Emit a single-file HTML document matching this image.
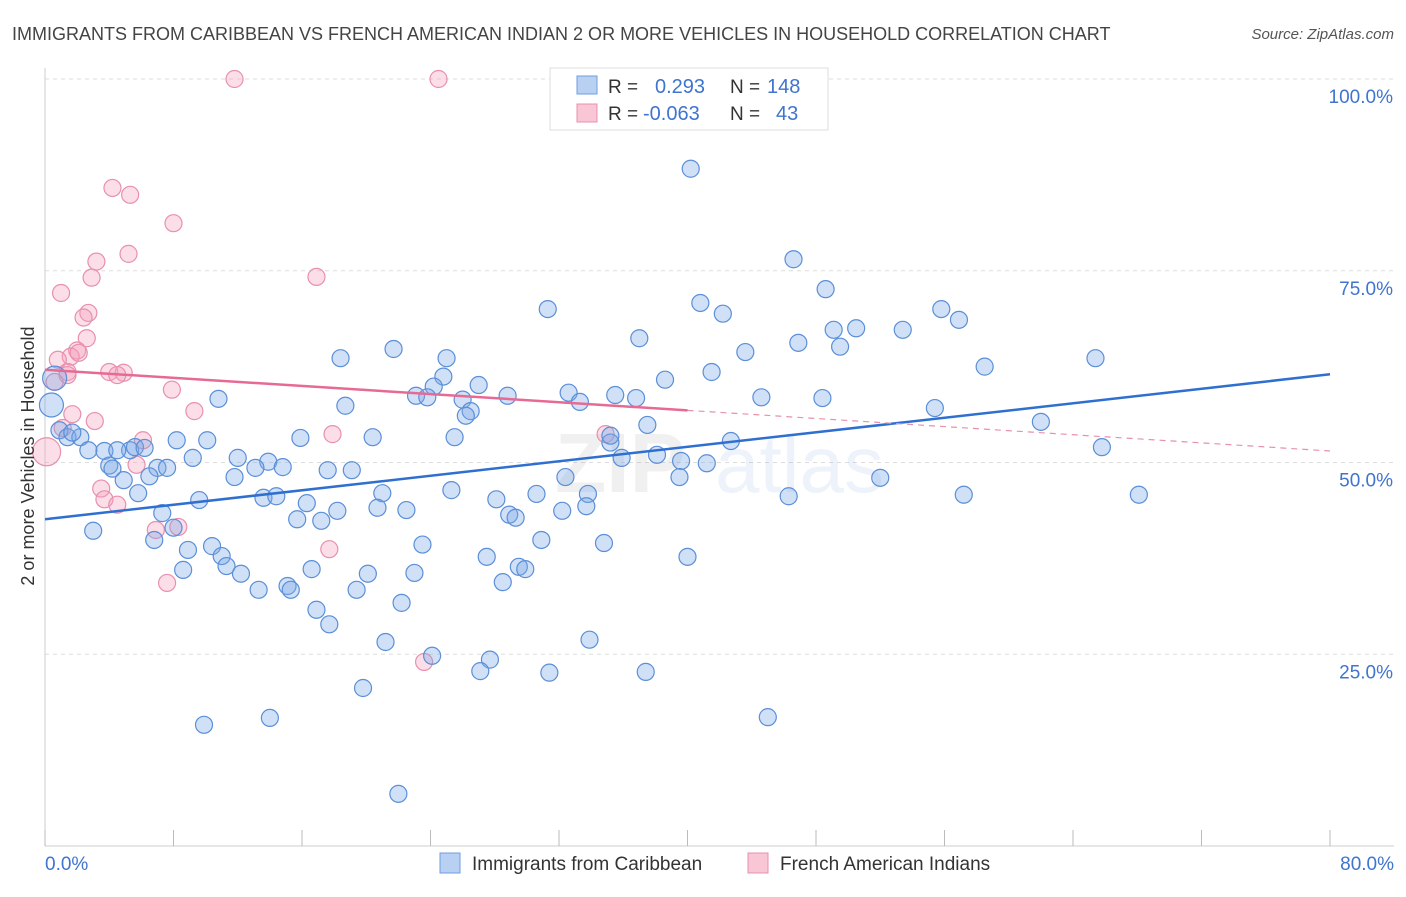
<!DOCTYPE html>
<html><head><meta charset="utf-8">
<style>
body{margin:0;background:#fff;font-family:"Liberation Sans",sans-serif;}
svg text{font-family:"Liberation Sans",sans-serif;}
</style></head>
<body>
<svg id="chart" width="1406" height="892" viewBox="0 0 1406 892" xmlns="http://www.w3.org/2000/svg">
<text x="12" y="40" font-size="18" fill="#444">IMMIGRANTS FROM CARIBBEAN VS FRENCH AMERICAN INDIAN 2 OR MORE VEHICLES IN HOUSEHOLD CORRELATION CHART</text>
<text x="1394" y="39" font-size="15" fill="#555" text-anchor="end" font-style="italic">Source: ZipAtlas.com</text>
<g id="grid"></g>
<g id="watermark" opacity="0.12">
<text x="555" y="492" font-size="84" font-family="Liberation Serif" fill="#888" font-weight="bold">ZIP</text>
<text x="715" y="492" font-size="80" fill="#6f9ee0">atlas</text>
</g>
<g id="pts"></g>
<g id="lines"></g>
<g>
<rect x="550" y="68" width="278" height="62" fill="#fff" stroke="#ddd"/>
<rect x="577" y="76" width="20" height="18" fill="#b8d0f2" stroke="#6f9ee0"/>
<rect x="577" y="104" width="20" height="18" fill="#f8c6d5" stroke="#e890ad"/>
<text x="608" y="93" font-size="19" fill="#333">R =</text>
<text x="655" y="93" font-size="20" fill="#3f74cf">0.293</text>
<text x="730" y="93" font-size="19" fill="#333">N =</text>
<text x="767" y="93" font-size="20" fill="#3f74cf">148</text>
<text x="608" y="120" font-size="19" fill="#333">R =</text>
<text x="643" y="120" font-size="20" fill="#3f74cf">-0.063</text>
<text x="730" y="120" font-size="19" fill="#333">N =</text>
<text x="776" y="120" font-size="20" fill="#3f74cf">43</text>
</g>
<g>
<rect x="440" y="853" width="20" height="20" fill="#b8d0f2" stroke="#6f9ee0"/>
<text x="472" y="870" font-size="19" fill="#333">Immigrants from Caribbean</text>
<rect x="748" y="853" width="20" height="20" fill="#f8c6d5" stroke="#e890ad"/>
<text x="780" y="870" font-size="19" fill="#333">French American Indians</text>
</g>
<text transform="translate(34,456) rotate(-90)" font-size="18" fill="#333" text-anchor="middle">2 or more Vehicles in Household</text>
</svg>
<script>
const blueX=[40.2,46.6,48.6,31.3,40.8,42.2,55.8,56.9,49.1,50.5,53.4,37.0,46.9,49.5,43.6,21.7,18.4,25.0,58.5,65.4,41.5,38.6,24.8,24.2,27.0,23.1,23.8,28.8,32.6,35.5,33.3,36.8,44.6,48.4,18.7,26.0,26.5,26.2,10.8,55.4,62.0,37.5,35.2,35.2,20.4,15.9,25.5,8.2,10.1,42.7,65.8,0.9,1.4,2.2,1.7,5.3,3.7,2.7,4.5,5.6,6.2,4.0,4.2,7.0,7.6,9.2,12.0,13.9,14.8,13.1,17.6,19.1,38.1,35.9,39.6,41.2,39.5,32.4,11.8,4.9,6.5,5.8,13.6,14.4,21.0,25.3,30.6,28.1,33.8,46.3,57.2,52.0,68.1,9.6,16.3,18.2,20.7,22.5,28.9,29.3,32.2,33.7,15.7,17.2,3.0,7.3,8.0,6.8,10.4,23.5,30.9,34.8,8.9,11.0,11.3,12.2,8.6,16.6,20.1,23.0,27.5,40.0,29.5,29.9,28.5,13.3,15.1,15.3,19.4,22.2,16.9,17.7,21.2,33.9,24.1,27.7,27.1,31.4,37.4,19.8,14.0,9.9,45.0,22.0,0.4,0.6];
const blueY=[88.3,76.5,72.6,70.0,70.8,69.4,70.0,68.6,67.3,67.5,67.3,66.2,65.6,65.1,64.4,64.8,63.6,63.6,62.5,63.6,61.8,60.8,61.2,59.9,60.1,58.7,58.5,58.7,59.1,58.8,57.9,58.4,58.5,58.4,57.4,58.2,56.7,56.1,58.3,57.1,55.3,54.9,52.6,53.5,53.3,53.2,53.3,52.9,52.9,52.8,52.0,54.2,53.3,53.3,53.9,51.6,51.5,51.6,51.6,52.0,51.9,49.6,49.2,49.3,49.3,50.6,50.6,50.1,49.4,49.3,49.0,49.0,51.0,50.6,50.2,49.9,48.1,48.1,48.1,47.7,48.2,46.0,45.4,45.6,46.0,46.4,45.9,45.2,45.9,45.6,45.8,48.0,45.8,45.1,44.7,43.7,44.1,43.8,43.2,42.8,43.7,44.3,42.6,42.4,41.1,43.4,41.5,39.9,39.1,39.3,39.9,39.5,38.6,37.8,36.5,35.5,36.0,36.1,35.5,35.6,37.7,37.7,36.4,36.1,34.4,33.4,33.9,33.4,33.4,31.7,30.8,28.9,26.6,26.9,24.8,24.3,22.8,22.6,22.7,20.6,16.7,15.8,16.8,6.8,57.5,61.0];
const pinkX=[11.8,24.5,4.2,5.3,8.0,5.2,3.2,2.9,16.9,1.0,2.7,2.4,2.6,2.0,1.6,2.1,1.4,1.4,4.0,4.9,4.5,0.6,7.9,9.3,1.7,3.1,1.1,17.9,34.9,6.1,0.1,5.7,3.5,3.7,4.5,8.3,6.9,17.7,7.6,23.6,0.8];
const pinkY=[100,100,85.8,84.9,81.2,77.2,76.2,74.1,74.2,72.1,69.5,68.9,66.2,64.6,63.8,64.3,61.8,61.4,61.8,61.7,61.4,60.5,59.5,56.7,56.3,55.4,54.5,53.7,53.7,52.9,51.4,49.7,46.6,45.2,44.5,41.6,41.2,38.7,34.3,24.0,63.4];
const blueTrend=[42.6,61.5];
const pinkTrend=[62.1,51.5];
const pinkSolidEnd=40;
const yTicks=[25,50,75,100];
const yTickLabels=["25.0%","50.0%","75.0%","100.0%"];
const xTicks=[0,8,16,24,32,40,48,56,64,72,80];

const NS="http://www.w3.org/2000/svg";
const X=v=>45+v*(1285/80);
const Y=v=>846-v*7.67;
function mk(tag,attrs,parent){const e=document.createElementNS(NS,tag);for(const k in attrs)e.setAttribute(k,attrs[k]);parent.appendChild(e);return e;}
const grid=document.getElementById('grid');
yTicks.forEach((t,i)=>{
 const l=mk('line',{x1:45,x2:1394,y1:Y(t),y2:Y(t),stroke:'#ddd','stroke-dasharray':'4,4'},grid);
 
 
 const tx=mk('text',{x:1393,y:Y(t)+24,'font-size':19,fill:'#3f74cf','text-anchor':'end'},grid);
 tx.textContent=yTickLabels[i];
 
 
});
const topLine=mk('line',{x1:45,x2:1394,y1:79,y2:79,stroke:'#ddd','stroke-dasharray':'4,4'},grid);


const ya=mk('line',{x1:45,x2:45,y1:68,y2:846,stroke:'#ccc'},grid);


const xa=mk('line',{x1:45,x2:1394,y1:846,y2:846,stroke:'#ccc'},grid);


xTicks.forEach(t=>{
 const l=mk('line',{x1:X(t),x2:X(t),y1:830,y2:846,stroke:'#bbb'},grid);
 
 
});
const x0=mk('text',{x:45,y:870,'font-size':19,fill:'#3f74cf'},grid);x0.textContent='0.0%';


const x1=mk('text',{x:1394,y:870,'font-size':19,fill:'#3f74cf','text-anchor':'end'},grid);x1.textContent='80.0%';



const pts=document.getElementById('pts');
pinkX.forEach((v,i)=>{
 const c=mk('circle',{cx:X(v),cy:Y(pinkY[i]),r:(v<0.3?14:8.5),fill:'rgba(244,160,188,0.35)',stroke:'#e890ad','stroke-width':1.2},pts);
 
 
});
blueX.forEach((v,i)=>{
 const c=mk('circle',{cx:X(v),cy:Y(blueY[i]),r:(v<0.7?12:8.5),fill:'rgba(120,165,230,0.35)',stroke:'#5b8fd8','stroke-width':1.2},pts);
 
 
});
const lines=document.getElementById('lines');
const bl=mk('line',{x1:X(0),y1:Y(blueTrend[0]),x2:X(80),y2:Y(blueTrend[1]),stroke:'#2f6fd0','stroke-width':2.5},lines);


const pAt=x=>pinkTrend[0]+(pinkTrend[1]-pinkTrend[0])*x/80;
const pl=mk('line',{x1:X(0),y1:Y(pAt(0)),x2:X(pinkSolidEnd),y2:Y(pAt(pinkSolidEnd)),stroke:'#e66a94','stroke-width':2.5},lines);


const pd=mk('line',{x1:X(pinkSolidEnd),y1:Y(pAt(pinkSolidEnd)),x2:X(80),y2:Y(pAt(80)),stroke:'#e890ad','stroke-width':1.2,'stroke-dasharray':'6,5'},lines);


</script>
</body></html>
